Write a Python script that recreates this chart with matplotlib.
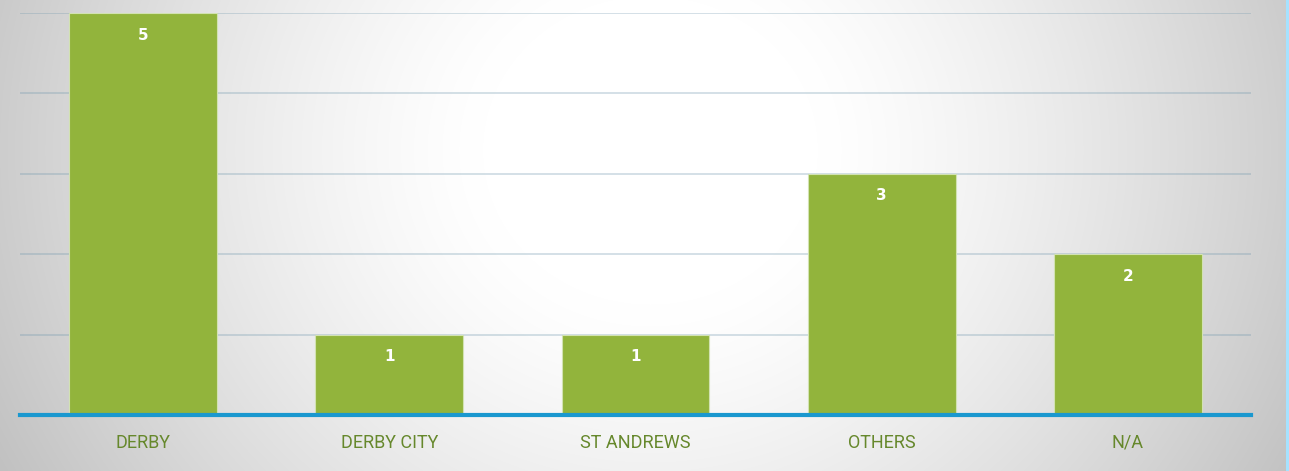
import numpy as np
import matplotlib
matplotlib.use("Agg")
import matplotlib.pyplot as plt
from matplotlib.patches import Rectangle

categories = ["DERBY", "DERBY CITY", "ST ANDREWS", "OTHERS", "N/A"]
values = [5, 1, 1, 3, 2]

W, H = 1289, 471
fig = plt.figure(figsize=(W / 100, H / 100), dpi=100)

# radial gradient background
bg = fig.add_axes([0, 0, 1, 1], zorder=0)
yy, xx = np.mgrid[0:H, 0:W]
t = np.sqrt(((xx - 650) / 760.0) ** 2 + ((yy - 150) / 700.0) ** 2)
g = 255 - 62 * np.clip((t - 0.22) / 0.75, 0, 1.2) ** 1.3
g = np.clip(g, 185, 255) / 255.0
img = np.dstack([g, g, g])
bg.imshow(img, aspect="auto", extent=[0, W, H, 0])
bg.set_xlim(0, W)
bg.set_ylim(H, 0)
bg.axis("off")

# right edge light-blue line
fig.add_artist(Rectangle((1286 / W, 0), 3 / W, 1, transform=fig.transFigure,
                         facecolor="#a6e2ff", edgecolor="none", zorder=1))

ax = fig.add_axes([20 / W, (H - 415) / H, 1231 / W, 402 / H], zorder=2)
ax.patch.set_alpha(0)
x = np.arange(len(categories))
bars = ax.bar(x, values, width=0.6, color="#92b43c", edgecolor="#d2e2b2",
              linewidth=0.8, zorder=3)
ax.set_xlim(-0.5, len(categories) - 0.5)
ax.set_ylim(0, 5)
ax.set_yticks([1, 2, 3, 4, 5])
ax.yaxis.grid(True, color="#6f97ad", alpha=0.32, linewidth=1.3, zorder=1)
ax.set_axisbelow(True)
for s in ["top", "right", "left"]:
    ax.spines[s].set_visible(False)
ax.spines["bottom"].set_color("#1a98cf")
ax.spines["bottom"].set_linewidth(3)
ax.spines["bottom"].set_zorder(4)
ax.tick_params(axis="y", left=False, labelleft=False)
ax.tick_params(axis="x", bottom=False, pad=10)
ax.set_xticks(x)
ax.set_xticklabels(categories, fontsize=13, color="#66882c", family="Roboto")

for b, v in zip(bars, values):
    ax.annotate(str(v), (b.get_x() + b.get_width() / 2, v), xytext=(0, -22),
                textcoords="offset pixels", ha="center", va="center",
                color="white", fontsize=11, fontweight="bold",
                family="DejaVu Sans", zorder=5)

fig.savefig("out.png", dpi=100)
